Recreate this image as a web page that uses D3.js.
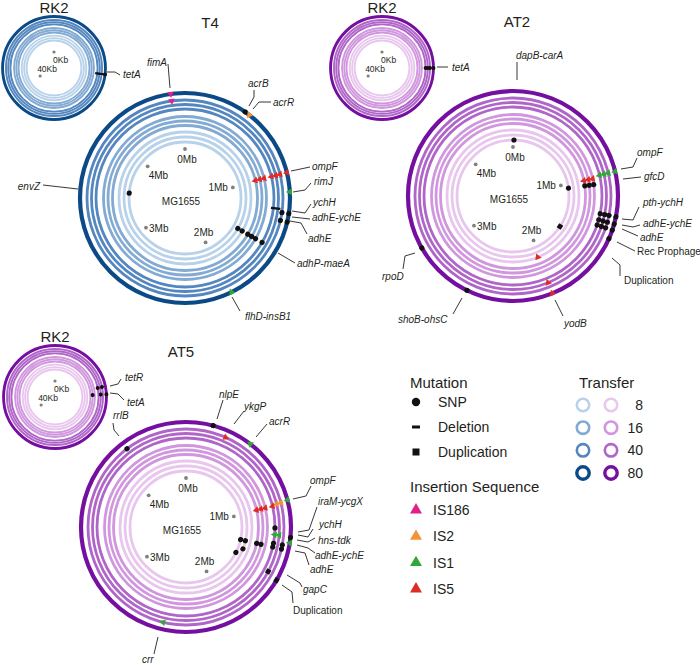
<!DOCTYPE html>
<html><head><meta charset="utf-8">
<script src="https://cdn.jsdelivr.net/npm/d3@7"></script>
<style>
body{margin:0;background:#fff}
text{font-family:"Liberation Sans",Arial,sans-serif;fill:#231f20}
</style>
</head><body>
<svg id="c" width="700" height="665"></svg>
<script>
// ---------------- DATA ----------------
const genomeMb = 4.64;          // MG1655 chromosome length
const plasmidKb = 60;           // RK2 plasmid length
const transferLevels = [8, 16, 40, 80];
const ringTransfer = [8, 8, 8, 16, 16, 16, 40, 40, 40, 80]; // ring index -> transfer (inner to outer)
const genomeTicks = [0, 1, 2, 3, 4];
const genomeTickLabels = ["0Mb", "1Mb", "2Mb", "3Mb", "4Mb"];
const plasmidTicks = [0, 40];
const plasmidTickLabels = ["0Kb", "40Kb"];
const mutationTypes = ["SNP", "Deletion", "Duplication"];
const isTypes = ["IS186", "IS2", "IS1", "IS5"];

const t4Genome = [
  {gene:"fimA", type:"IS186", pos:4.539, rings:[8,9], dir:"in"},
  {gene:"acrB", type:"SNP", pos:0.451, rings:[9]},
  {gene:"acrR", type:"IS2", pos:0.487, rings:[9], dir:"in"},
  {gene:"ompF", type:"IS5", pos:0.980, rings:[3,4,5,6,7,8,9], dir:"in"},
  {gene:"rimJ", type:"IS1", pos:1.117, rings:[9], dir:"in"},
  {gene:"ychH", type:"Deletion", pos:1.244, rings:[6,7]},
  {gene:"adhE-ychE", type:"SNP", pos:1.270, rings:[8,9]},
  {gene:"adhE", type:"SNP", pos:1.331, rings:[8,9]},
  {gene:"adhP-maeA", type:"SNP", pos:1.547, rings:[1,2,3,4,5,6]},
  {gene:"flhD-insB1", type:"IS1", pos:1.981, rings:[9], dir:"in"},
  {gene:"envZ", type:"SNP", pos:3.544, rings:[0]}
];
const t4Plasmid = [
  {gene:"tetA", type:"Deletion", pos:16.2, rings:[6,7,8]},
  {gene:"tetA", type:"SNP", pos:16.2, rings:[9]}
];
const at2Genome = [
  {gene:"dapB-carA", type:"SNP", pos:0.013, rings:[0]},
  {gene:"ompF", type:"IS1", pos:0.986, rings:[6,7,8,9], dir:"in"},
  {gene:"ompF", type:"IS5", pos:1.003, rings:[3,4,5], dir:"in"},
  {gene:"gfcD", type:"SNP", pos:1.057, rings:[0,3,4,5]},
  {gene:"pth-ychH", type:"SNP", pos:1.308, rings:[6,7,8,9]},
  {gene:"adhE-ychE", type:"SNP", pos:1.360, rings:[6,7,8,9]},
  {gene:"adhE", type:"SNP", pos:1.405, rings:[6,7,8,9]},
  {gene:"Rec Prophage", type:"SNP", pos:1.469, rings:[9]},
  {gene:"Duplication", type:"Duplication", pos:1.585, rings:[0]},
  {gene:"yodB", type:"IS5", pos:2.036, rings:[2,7,9], dir:"in"},
  {gene:"shoB-ohsC", type:"SNP", pos:2.655, rings:[9]},
  {gene:"rpoD", type:"SNP", pos:3.097, rings:[9]}
];
const at2Plasmid = [
  {gene:"tetA", type:"SNP", pos:15.0, rings:[6,7,8,9]}
];
const at5Genome = [
  {gene:"rrlB", type:"SNP", pos:4.163, rings:[8]},
  {gene:"nlpE", type:"SNP", pos:0.193, rings:[9]},
  {gene:"ykgP", type:"IS5", pos:0.307, rings:[8], dir:"cw"},
  {gene:"acrR", type:"IS1", pos:0.487, rings:[9], dir:"ccw"},
  {gene:"ompF", type:"IS1", pos:0.967, rings:[9], dir:"in"},
  {gene:"ompF", type:"IS2", pos:0.976, rings:[7,8], dir:"in"},
  {gene:"ompF", type:"IS5", pos:0.986, rings:[3,4,5,6], dir:"in"},
  {gene:"iraM-ycgX", type:"SNP", pos:1.168, rings:[6]},
  {gene:"ychH", type:"IS1", pos:1.224, rings:[6,7], dir:"in"},
  {gene:"ychH", type:"SNP", pos:1.234, rings:[9]},
  {gene:"hns-tdk", type:"IS1", pos:1.273, rings:[9], dir:"in"},
  {gene:"adhE-ychE", type:"SNP", pos:1.296, rings:[6,8]},
  {gene:"adhE", type:"SNP", pos:1.328, rings:[0,1,3,4,6,8]},
  {gene:"adhE", type:"SNP", pos:1.431, rings:[1]},
  {gene:"adhE", type:"SNP", pos:1.508, rings:[0]},
  {gene:"gapC", type:"Duplication", pos:1.527, rings:[7]},
  {gene:"Duplication", type:"Duplication", pos:1.553, rings:[9]},
  {gene:"crr", type:"IS1", pos:2.494, rings:[8], dir:"cw"}
];
const at5Plasmid = [
  {gene:"tetR", type:"SNP", pos:13.0, rings:[6,8]},
  {gene:"tetA", type:"SNP", pos:14.5, rings:[4,7,9]}
];

// ---------------- LAYOUT ----------------
const ringR = [56, 61, 66, 72.5, 77, 81.5, 89, 93.5, 98, 105];
const genomeTickOffsets = [{dx:2,dy:14,a:"middle"},{dx:-5,dy:4,a:"end"},{dx:-2,dy:-6,a:"middle"},{dx:3,dy:4,a:"start"},{dx:1,dy:13,a:"start"}];
const plasmidTickOffsets = [{dx:-1,dy:11,a:"start"},{dx:-3,dy:-4,a:"start"}];

const t4Labels = [
  {t:"fimA", x:157, y:66, a:"middle", line:[[168,64],[170,88]]},
  {t:"acrB", x:248, y:87, line:[[254,90],[254,97],[249,106]]},
  {t:"acrR", x:273, y:106, line:[[253,109],[259,102],[271,102]]},
  {t:"ompF", x:312, y:170, line:[[291,171],[310,167]]},
  {t:"rimJ", x:314, y:185, line:[[293,192],[305,190],[311,183]]},
  {t:"ychH", x:313, y:206, line:[[292,211],[305,213],[311,204]]},
  {t:"adhE-ychE", x:312, y:221, line:[[292,217],[310,219]]},
  {t:"adhE", x:308, y:242, line:[[290,221],[301,223],[307,234]]},
  {t:"adhP-maeA", x:297, y:267, line:[[278,253],[295,263]]},
  {t:"flhD-insB1", x:245, y:320, line:[[232,297],[240,311]]},
  {t:"envZ", x:40, y:190, a:"end", line:[[43,185],[78,189]]},
  {t:"tetA", x:123, y:78, line:[[107,72],[115,72],[120,75]]}
];
const at2Labels = [
  {t:"dapB-carA", x:516, y:59, line:[[517,62],[517,80]]},
  {t:"ompF", x:637, y:156, line:[[621,169],[633,167],[637,158]]},
  {t:"gfcD", x:644, y:180, line:[[623,179],[641,177]]},
  {t:"pth-ychH", x:643, y:206, line:[[622,219],[633,220],[639,207]]},
  {t:"adhE-ychE", x:643, y:227, line:[[622,225],[633,227],[640,225]]},
  {t:"adhE", x:640, y:241, line:[[622,229],[638,236]]},
  {t:"Rec Prophage", x:637, y:255, upright:true, line:[[617,242],[635,251]]},
  {t:"Duplication", x:624, y:284, upright:true, line:[[612,258],[620,265],[620,276]]},
  {t:"yodB", x:564, y:327, line:[[555,300],[563,316]]},
  {t:"rpoD", x:382, y:280, line:[[415,253],[405,256],[403,269]]},
  {t:"shoB-ohsC", x:398, y:323, line:[[462,298],[453,314]]},
  {t:"tetA", x:452, y:71, line:[[437,67],[448,67]]}
];
const at5Labels = [
  {t:"rrlB", x:113, y:419, line:[[113,423],[114,430],[119,436]]},
  {t:"nlpE", x:219, y:398, line:[[223,400],[217,419]]},
  {t:"ykgP", x:244, y:410, line:[[244,411],[234,424]]},
  {t:"acrR", x:269, y:425, line:[[267,424],[256,437]]},
  {t:"ompF", x:310, y:484, line:[[293,499],[306,496],[311,486]]},
  {t:"iraM-ycgX", x:318, y:505, line:[[317,507],[309,530],[298,532]]},
  {t:"ychH", x:319, y:528, line:[[298,535],[308,537],[313,529]]},
  {t:"hns-tdk", x:318, y:544, line:[[297,540],[308,542],[315,538]]},
  {t:"adhE-ychE", x:315, y:559, line:[[297,545],[308,548],[315,553]]},
  {t:"adhE", x:310, y:573, line:[[295,551],[305,553],[309,565]]},
  {t:"gapC", x:303, y:593, line:[[287,575],[300,583],[302,587]]},
  {t:"Duplication", x:293, y:614, upright:true, line:[[282,585],[292,592],[293,603]]},
  {t:"crr", x:142, y:663, line:[[158,637],[154,654]]},
  {t:"tetR", x:125, y:381, line:[[110,386],[118,384],[121,379]]},
  {t:"tetA", x:127, y:406, line:[[110,393],[118,394],[124,400]]}
];

const INK = "#231f20";
const palettes = {
  blue: d3.scaleOrdinal().domain(transferLevels).range(["#b8d2ea","#82aad3","#5487bf","#0b4a86"]),
  purple: d3.scaleOrdinal().domain(transferLevels).range(["#e8c6ee","#d197de","#b066c9","#740f9f"])
};
const isColor = d3.scaleOrdinal().domain(isTypes).range(["#e0218a","#f39237","#2fa836","#df2b25"]);
const dirRot = {in:180, out:0, cw:90, ccw:-90};

const panels = [
  {title:"T4", tx:210, ty:28, pal:"blue", g:{cx:185, cy:198}, p:{cx:54, cy:68}, genome:t4Genome, plasmid:t4Plasmid, labels:t4Labels},
  {title:"AT2", tx:517, ty:27, pal:"purple", g:{cx:513, cy:196}, p:{cx:382, cy:68}, genome:at2Genome, plasmid:at2Plasmid, labels:at2Labels},
  {title:"AT5", tx:181, ty:357, pal:"purple", g:{cx:186, cy:527}, p:{cx:55, cy:397}, genome:at5Genome, plasmid:at5Plasmid, labels:at5Labels}
];

const svg = d3.select("#c");
const rad = d => d * Math.PI / 180;
function polar(cx, cy, r, deg) { return [cx + r * Math.sin(rad(deg)), cy - r * Math.cos(rad(deg))]; }

function drawRing(cfg) {
  const {cx, cy, scale, pal, angle, ticks, tickLabels, tickOffsets, tickR, muts, center, big} = cfg;
  const g = svg.append("g");
  const ws = big ? 1 : 0.68;
  ringR.forEach((r, i) => {
    g.append("circle").attr("cx", cx).attr("cy", cy).attr("r", r * scale)
      .attr("fill", "none").attr("stroke", pal(ringTransfer[i]))
      .attr("stroke-width", (i === 9 ? 4.2 : 2.8) * ws);
  });
  ticks.forEach((t, i) => {
    const [x, y] = polar(cx, cy, tickR, angle(t));
    g.append("circle").attr("cx", x).attr("cy", y).attr("r", big ? 1.9 : 1.6).attr("fill", "#7f7f7f");
    const o = tickOffsets[i];
    g.append("text").attr("x", x + o.dx).attr("y", y + o.dy).attr("text-anchor", o.a)
      .style("font-size", big ? "10px" : "8.5px").text(tickLabels[i]);
  });
  if (center) g.append("text").attr("x", cx - 4).attr("y", cy + 7).attr("text-anchor", "middle")
      .style("font-size", "10px").text(center);
  const mk = g.append("g");
  muts.forEach(m => {
    const a = angle(m.pos);
    m.rings.forEach(ri => {
      const [x, y] = polar(cx, cy, ringR[ri] * scale, a);
      const s = mk.append("g").attr("transform", `translate(${x},${y}) rotate(${a})`);
      if (m.type === "SNP") {
        s.append("circle").attr("r", big ? 2.6 : 2.0).attr("fill", "#111");
      } else if (m.type === "Deletion") {
        const L = big ? 5 : 4.2, W = 2.2;
        s.append("rect").attr("x", -W / 2).attr("y", -L / 2).attr("width", W).attr("height", L).attr("fill", "#111");
      } else if (m.type === "Duplication") {
        const q = big ? 4.8 : 3.6;
        s.append("rect").attr("x", -q / 2).attr("y", -q / 2).attr("width", q).attr("height", q).attr("fill", "#111");
      } else {
        s.append("path").attr("d", d3.symbol(d3.symbolTriangle, big ? 20 : 13)())
          .attr("transform", `rotate(${dirRot[m.dir || "in"]})`).attr("fill", isColor(m.type));
      }
    });
  });
}

const angG = d3.scaleLinear().domain([0, genomeMb]).range([0, 360]);
const angP = d3.scaleLinear().domain([0, plasmidKb]).range([0, 360]);
const line = d3.line();

panels.forEach(P => {
  const pal = palettes[P.pal];
  drawRing({cx:P.p.cx, cy:P.p.cy, scale:0.49, pal, angle:angP, ticks:plasmidTicks, tickLabels:plasmidTickLabels,
    tickOffsets:plasmidTickOffsets, tickR:16, muts:P.plasmid, center:null, big:false});
  drawRing({cx:P.g.cx, cy:P.g.cy, scale:1, pal, angle:angG, ticks:genomeTicks, tickLabels:genomeTickLabels,
    tickOffsets:genomeTickOffsets, tickR:49, muts:P.genome, center:"MG1655", big:true});
  svg.append("text").attr("x", P.p.cx).attr("y", P.p.cy - 55).attr("text-anchor", "middle")
    .style("font-size", "15px").text("RK2");
  svg.append("text").attr("x", P.tx).attr("y", P.ty).attr("text-anchor", "middle")
    .style("font-size", "15px").text(P.title);
  const lg = svg.append("g");
  P.labels.forEach(l => {
    lg.append("path").attr("d", line(l.line)).attr("fill", "none").attr("stroke", INK).attr("stroke-width", 0.9);
    lg.append("text").attr("x", l.x).attr("y", l.y).attr("text-anchor", l.a || "start")
      .style("font-size", "10px").style("font-style", l.upright ? "normal" : "italic").text(l.t);
  });
});

// ---------------- LEGEND ----------------
const leg = svg.append("g");
leg.append("text").attr("x", 410).attr("y", 388).style("font-size", "15px").text("Mutation");
const mutY = d3.scalePoint().domain(mutationTypes).range([402, 452]);
mutationTypes.forEach(t => {
  const y = mutY(t);
  if (t === "SNP") leg.append("circle").attr("cx", 416).attr("cy", y).attr("r", 4.2).attr("fill", "#111");
  else if (t === "Deletion") leg.append("rect").attr("x", 412).attr("y", y - 1.5).attr("width", 8).attr("height", 3).attr("fill", "#111");
  else leg.append("rect").attr("x", 412.5).attr("y", y - 3.5).attr("width", 7).attr("height", 7).attr("fill", "#111");
  leg.append("text").attr("x", 438).attr("y", y + 5).style("font-size", "14px").text(t);
});
leg.append("text").attr("x", 410).attr("y", 492).style("font-size", "15px").text("Insertion Sequence");
const isY = d3.scalePoint().domain(isTypes).range([510, 589]);
isTypes.forEach(t => {
  const y = isY(t);
  leg.append("path").attr("d", d3.symbol(d3.symbolTriangle, 62)()).attr("transform", `translate(416,${y})`).attr("fill", isColor(t));
  leg.append("text").attr("x", 433).attr("y", y + 5).style("font-size", "14px").text(t);
});
leg.append("text").attr("x", 579).attr("y", 388).style("font-size", "15px").text("Transfer");
const trY = d3.scalePoint().domain(transferLevels).range([405, 473]);
transferLevels.forEach(t => {
  const y = trY(t);
  ["blue", "purple"].forEach((p, j) => {
    leg.append("circle").attr("cx", j ? 611 : 583).attr("cy", y).attr("r", 6.2).attr("fill", "none")
      .attr("stroke", palettes[p](t)).attr("stroke-width", t === 80 ? 3.4 : 2.6);
  });
  leg.append("text").attr("x", 643).attr("y", y + 5).attr("text-anchor", "end").style("font-size", "14px").text(t);
});
</script>
</body></html>
